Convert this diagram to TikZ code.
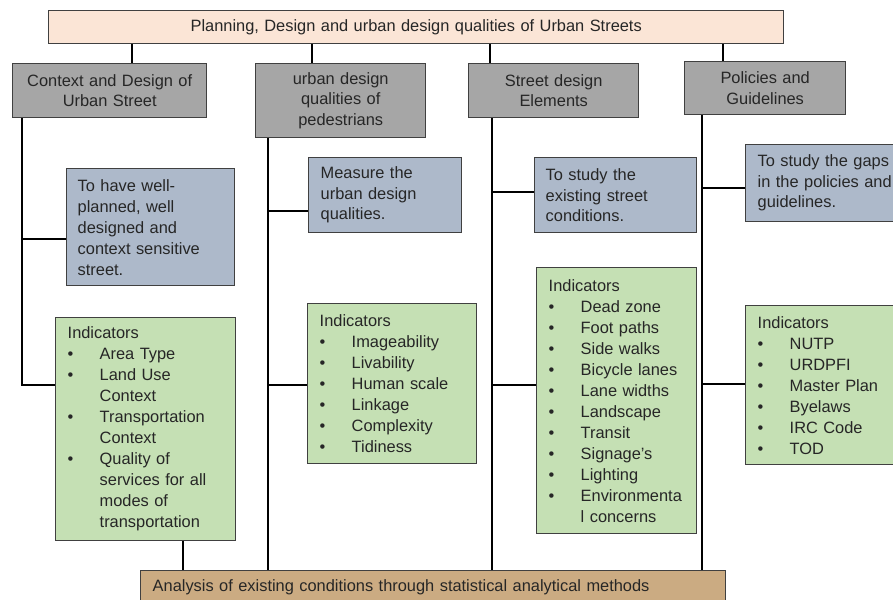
\documentclass[tikz,border=0pt]{standalone}
\usepackage{fontspec}
\setmainfont{Liberation Sans}
\usetikzlibrary{calc}

\definecolor{ink}{RGB}{38,38,38}
\definecolor{edge}{RGB}{64,64,64}
\definecolor{peach}{RGB}{251,229,214}
\definecolor{headgray}{RGB}{166,166,166}
\definecolor{aimblue}{RGB}{173,185,202}
\definecolor{indgreen}{RGB}{197,224,180}
\definecolor{tanbar}{RGB}{203,171,130}

% bullet column of the indicator lists
\newcommand\indbul{\makebox[32bp][l]{\textbullet}}
\newcommand\indcont{\hspace*{32bp}}

\begin{document}
\begin{tikzpicture}[x=1bp,y=-1bp,
  basebox/.style={draw=edge, line width=1.4bp, anchor=north west, inner ysep=0pt,
    text=ink, font=\fontsize{16.4bp}{20.5bp}\selectfont},
  boxdim/.style n args={3}{minimum width=#1, minimum height=#2, text width=#3},
  titlebox/.style={basebox, fill=peach, align=center, inner xsep=4bp},
  headbox/.style={basebox, fill=headgray, align=center, inner xsep=4bp},
  aimbox/.style={basebox, fill=aimblue, align=left},
  indbox/.style={basebox, fill=indgreen, align=left, inner xsep=12bp,
    font=\fontsize{16.4bp}{21bp}\selectfont},
  endbox/.style={basebox, fill=tanbar, align=left, inner xsep=12bp},
  link/.style={draw=black, line width=2.6bp},
]
\useasboundingbox (0,0) rectangle (893,600);

% title and the four themes
\node[titlebox, boxdim={735bp}{33bp}{727bp}] (top) at (48,10)
  {Planning, Design and urban design qualities of Urban Streets};
\node[headbox, boxdim={194bp}{54bp}{186bp}] (h1) at (12,63)
  {Context and Design of\\Urban Street};
\node[headbox, boxdim={170bp}{74bp}{162bp}] (h2) at (255,63)
  {urban design\\qualities of\\pedestrians};
\node[headbox, boxdim={170bp}{54bp}{162bp}] (h3) at (468,63)
  {Street design\\Elements};
\node[headbox, boxdim={161bp}{53bp}{153bp}] (h4) at (684,61)
  {Policies and\\Guidelines};

% aims
\node[aimbox, inner xsep=11bp, boxdim={168bp}{117bp}{146bp},
  font=\fontsize{16.4bp}{21bp}\selectfont] (b1) at (66,168)
  {To have well-\\planned, well\\designed and\\context sensitive\\street.};
\node[aimbox, inner xsep=12bp, boxdim={153bp}{75bp}{129bp}] (b2) at (308,157)
  {Measure the\\urban design\\qualities.};
\node[aimbox, inner xsep=11bp, boxdim={162bp}{75bp}{140bp}] (b3) at (534,157)
  {To study the\\existing street\\conditions.};
\node[aimbox, inner xsep=12bp, boxdim={160bp}{77bp}{136bp}] (b4) at (745,144)
  {To study the gaps\\in the policies and\\guidelines.};

% indicators
\node[indbox, boxdim={180bp}{223bp}{156bp}] (g1) at (55,317)
  {Indicators\\
   \indbul Area Type\\
   \indbul Land Use\\
   \indcont Context\\
   \indbul Transportation\\
   \indcont Context\\
   \indbul Quality of\\
   \indcont services for all\\
   \indcont modes of\\
   \indcont transportation};
\node[indbox, boxdim={169bp}{160bp}{145bp}] (g2) at (307,303)
  {Indicators\\
   \indbul Imageability\\
   \indbul Livability\\
   \indbul Human scale\\
   \indbul Linkage\\
   \indbul Complexity\\
   \indbul Tidiness};
\node[indbox, boxdim={160bp}{266bp}{136bp}] (g3) at (536,267)
  {Indicators\\
   \indbul Dead zone\\
   \indbul Foot paths\\
   \indbul Side walks\\
   \indbul Bicycle lanes\\
   \indbul Lane widths\\
   \indbul Landscape\\
   \indbul Transit\\
   \indbul Signage's\\
   \indbul Lighting\\
   \indbul Environmenta\\
   \indcont l concerns};
\node[indbox, boxdim={160bp}{159bp}{136bp}] (g4) at (745,305)
  {Indicators\\
   \indbul NUTP\\
   \indbul URDPFI\\
   \indbul Master Plan\\
   \indbul Byelaws\\
   \indbul IRC Code\\
   \indbul TOD};

% analysis bar
\node[endbox, boxdim={585bp}{34bp}{561bp}] (bot) at (140,570)
  {Analysis of existing conditions through statistical analytical methods};

% junction points on the trunks
\coordinate (d1) at (132,0);
\coordinate (d2) at (312,0);
\coordinate (d3) at (490,0);
\coordinate (d4) at (723,0);
\coordinate (t1) at (22,385);
\coordinate (t2) at (268,0);
\coordinate (t3) at (492,0);
\coordinate (t4) at (702,0);
\coordinate (u1) at (183,0);

% title to themes
\draw[link] (d1 |- top.south) -- (d1 |- h1.north);
\draw[link] (d2 |- top.south) -- (d2 |- h2.north);
\draw[link] (d3 |- top.south) -- (d3 |- h3.north);
\draw[link] (d4 |- top.south) -- (d4 |- h4.north);

% first trunk
\draw[link] (t1 |- h1.south) -- (t1) -- (t1 -| g1.west);
\draw[link] ($(t1 |- b1.north)+(0,71)$) -- ($(b1.north west)+(0,71)$);
\draw[link] (u1 |- g1.south) -- (u1 |- bot.north);

% second trunk
\draw[link] (t2 |- h2.south) -- (t2 |- bot.north);
\draw[link] ($(t2 |- b2.north)+(0,54)$) -- ($(b2.north west)+(0,54)$);
\draw[link] ($(t2 |- g2.north)+(0,82)$) -- ($(g2.north west)+(0,82)$);

% third trunk
\draw[link] (t3 |- h3.south) -- (t3 |- bot.north);
\draw[link] ($(t3 |- b3.north)+(0,35)$) -- ($(b3.north west)+(0,35)$);
\draw[link] ($(t3 |- g3.north)+(0,118)$) -- ($(g3.north west)+(0,118)$);

% fourth trunk
\draw[link] (t4 |- h4.south) -- (t4 |- bot.north);
\draw[link] ($(t4 |- b4.north)+(0,44)$) -- ($(b4.north west)+(0,44)$);
\draw[link] ($(t4 |- g4.north)+(0,79)$) -- ($(g4.north west)+(0,79)$);
\end{tikzpicture}
\end{document}
